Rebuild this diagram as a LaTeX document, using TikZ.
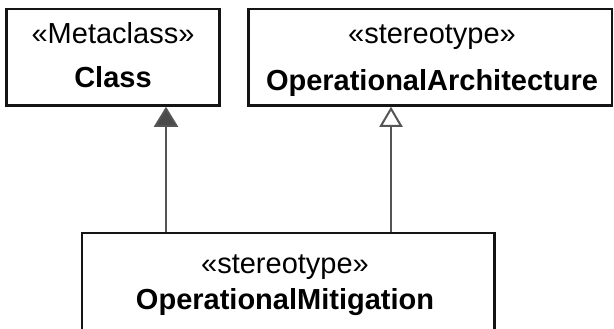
\documentclass[tikz,border=0pt]{standalone}
\usepackage{fontspec}
\setmainfont{Liberation Sans}
\usetikzlibrary{arrows.meta}
\definecolor{conngray}{HTML}{555555}
\definecolor{tipgray}{HTML}{4A4A4A}
\begin{document}
\begin{tikzpicture}[x=0.5pt,y=-0.5pt,
  umlbox/.style={draw=black!92,line width=1.25pt,rectangle,inner sep=0pt,fill=white},
  stlabel/.style={anchor=base,inner sep=0pt,font=\fontsize{14.5}{17}\selectfont},
  namelabel/.style={anchor=base,inner sep=0pt,font=\fontsize{14.5}{17}\selectfont\bfseries},
  conn/.style={draw=conngray,line width=1pt}]
\useasboundingbox (0,0) rectangle (614,328);
\fill[white] (0,0) rectangle (614,328);
\node[umlbox,minimum width=106.5pt,minimum height=48.25pt] (cls) at (113,57.25) {};
\node[umlbox,minimum width=181.75pt,minimum height=48.25pt] (oa) at (430.25,57.25) {};
\node[umlbox,minimum width=206.25pt,minimum height=56pt] (om) at (288.25,289) {};
\node[stlabel] (clsst) at (113,43.5) {«Metaclass»};
\node[namelabel] (clsname) at (113,87.5) {Class};
\node[stlabel] (oast) at (432,43.5) {«stereotype»};
\node[namelabel] (oaname) at (432,90) {OperationalArchitecture};
\node[stlabel] (omst) at (285,273) {«stereotype»};
\node[namelabel] (omname) at (285,309) {OperationalMitigation};
\coordinate (xa) at (166,0);
\coordinate (xb) at (391,0);
\draw[conn,-{Triangle[width=12pt,length=10pt,fill=tipgray]}] (om.north -| xa) -- (cls.south -| xa);
\draw[conn,-{Triangle[open,width=11.5pt,length=10pt,fill=white]}] (om.north -| xb) -- (oa.south -| xb);
\end{tikzpicture}
\end{document}
